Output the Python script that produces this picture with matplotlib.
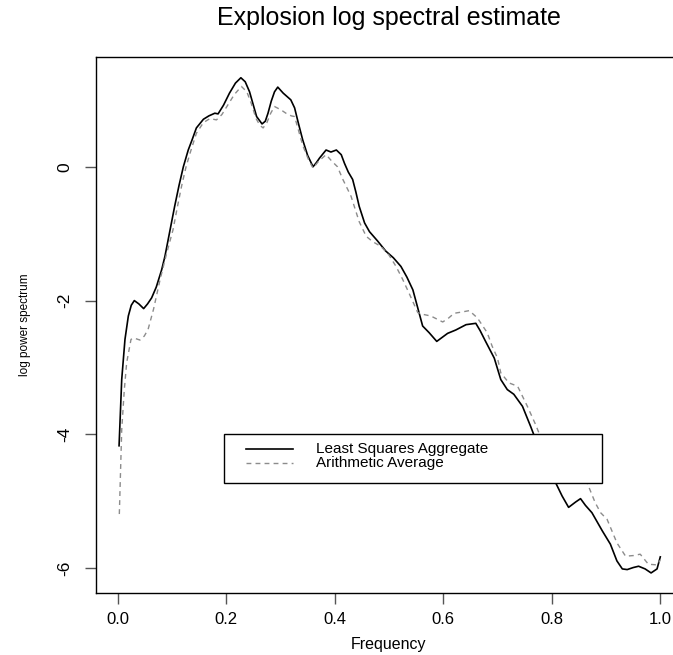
import numpy as np
import matplotlib
matplotlib.use("Agg")
import matplotlib.pyplot as plt
from matplotlib.patches import Rectangle

plt.rcParams['font.family'] = ['Liberation Sans', 'DejaVu Sans']

# least squares aggregate spectrum (solid)
lsa_freq = [0.0025, 0.0074, 0.0134, 0.0196, 0.025, 0.0306, 0.039, 0.0478, 0.055, 0.0625,
            0.071, 0.081, 0.087, 0.093, 0.099, 0.105, 0.113, 0.121, 0.130, 0.137,
            0.145, 0.158, 0.168, 0.179, 0.185, 0.195, 0.206, 0.217, 0.227, 0.235,
            0.243, 0.250, 0.256, 0.266, 0.272, 0.277, 0.283, 0.289, 0.295, 0.305,
            0.312, 0.319, 0.326, 0.333, 0.341, 0.350, 0.360, 0.366, 0.372, 0.384,
            0.393, 0.403, 0.412, 0.418, 0.425, 0.433, 0.439, 0.445, 0.455, 0.464,
            0.479, 0.494, 0.508, 0.522, 0.533, 0.544, 0.552, 0.562, 0.574, 0.588,
            0.598, 0.608, 0.623, 0.642, 0.660, 0.668, 0.678, 0.694, 0.706, 0.718,
            0.730, 0.746, 0.761, 0.770, 0.785, 0.797, 0.807, 0.819, 0.831, 0.844,
            0.853, 0.862, 0.874, 0.893, 0.908, 0.920, 0.930, 0.939, 0.950, 0.960,
            0.972, 0.983, 0.994, 1.000]
lsa_logpow = [-4.17, -3.18, -2.58, -2.23, -2.07, -2.00, -2.05, -2.12, -2.05, -1.96,
              -1.80, -1.54, -1.34, -1.09, -0.84, -0.59, -0.28, 0.00, 0.25, 0.40,
              0.58, 0.71, 0.76, 0.80, 0.79, 0.92, 1.10, 1.25, 1.33, 1.27,
              1.12, 0.92, 0.75, 0.64, 0.68, 0.80, 0.98, 1.12, 1.19, 1.10,
              1.05, 1.00, 0.88, 0.65, 0.40, 0.17, 0.00, 0.06, 0.13, 0.25,
              0.22, 0.25, 0.18, 0.05, -0.08, -0.19, -0.38, -0.59, -0.84, -0.97,
              -1.11, -1.26, -1.36, -1.49, -1.65, -1.84, -2.08, -2.38, -2.48, -2.61,
              -2.55, -2.49, -2.44, -2.36, -2.34, -2.45, -2.61, -2.86, -3.18, -3.33,
              -3.40, -3.58, -3.88, -4.07, -4.35, -4.55, -4.72, -4.92, -5.09, -5.01,
              -4.96, -5.06, -5.17, -5.44, -5.64, -5.89, -6.01, -6.02, -5.99, -5.97,
              -6.01, -6.07, -6.01, -5.83]

# arithmetic average spectrum (dashed)
avg_freq = [0.003, 0.0074, 0.012, 0.0165, 0.0245, 0.030, 0.041, 0.049, 0.056, 0.066,
            0.078, 0.090, 0.102, 0.110, 0.118, 0.126, 0.134, 0.145, 0.158, 0.170,
            0.182, 0.192, 0.205, 0.215, 0.228, 0.238, 0.246, 0.255, 0.262, 0.268,
            0.275, 0.282, 0.289, 0.301, 0.310, 0.320, 0.326, 0.333, 0.341, 0.352,
            0.360, 0.370, 0.384, 0.395, 0.405, 0.415, 0.430, 0.445, 0.458, 0.470,
            0.485, 0.500, 0.513, 0.525, 0.537, 0.553, 0.565, 0.577, 0.599, 0.610,
            0.620, 0.635, 0.648, 0.663, 0.681, 0.690, 0.700, 0.706, 0.721, 0.737,
            0.755, 0.770, 0.779, 0.800, 0.815, 0.828, 0.840, 0.855, 0.865, 0.880,
            0.890, 0.902, 0.920, 0.936, 0.951, 0.963, 0.978, 0.994, 1.000]
avg_logpow = [-5.19, -3.93, -3.35, -2.93, -2.58, -2.56, -2.59, -2.53, -2.43, -2.13,
              -1.69, -1.30, -0.94, -0.60, -0.28, 0.00, 0.22, 0.50, 0.66, 0.72,
              0.70, 0.78, 0.95, 1.08, 1.20, 1.12, 0.95, 0.72, 0.62, 0.58,
              0.66, 0.80, 0.90, 0.85, 0.80, 0.76, 0.75, 0.55, 0.32, 0.10,
              -0.02, 0.08, 0.18, 0.08, 0.00, -0.19, -0.44, -0.82, -1.04, -1.12,
              -1.19, -1.32, -1.49, -1.68, -1.89, -2.18, -2.21, -2.23, -2.32, -2.26,
              -2.19, -2.17, -2.15, -2.26, -2.48, -2.68, -2.86, -3.08, -3.23, -3.28,
              -3.58, -3.85, -4.03, -4.40, -4.65, -4.73, -4.73, -4.70, -4.72, -5.02,
              -5.17, -5.27, -5.62, -5.82, -5.81, -5.79, -5.94, -5.95, -5.88]

legend_labels = ["Least Squares Aggregate", "Arithmetic Average"]
xticks = [0.0, 0.2, 0.4, 0.6, 0.8, 1.0]
yticks = [-6, -4, -2, 0]

W, H = 673, 655
fig = plt.figure(figsize=(W / 100, H / 100), dpi=100)
ax = fig.add_axes([96 / W, 62 / H, 586 / W, 536 / H])

ax.plot(lsa_freq, lsa_logpow, color='black', lw=1.2)
ax.plot(avg_freq, avg_logpow, color='#8c8c8c', lw=1.0, dashes=(3.5, 3))

ax.set_xlim(-0.04, 1.04)
ax.set_ylim(-6.37, 1.64)
ax.spines['right'].set_visible(False)
for s in ['left', 'top', 'bottom']:
    ax.spines[s].set_linewidth(1.0)

ax.set_xticks(xticks)
ax.set_xticklabels(["%.1f" % v for v in xticks], fontsize=12)
ax.set_yticks(yticks)
ax.set_yticklabels([str(v) for v in yticks], fontsize=12.5, rotation=90, va='center')
ax.tick_params(length=8, width=1, color='#555555')
ax.tick_params(axis='x', pad=6)
ax.tick_params(axis='y', pad=9)

ax.set_xlabel("Frequency", fontsize=11.5, labelpad=7)
ax.set_ylabel("log power spectrum", fontsize=8.5, labelpad=19)

fig.text(389 / W, 1 - 25 / H, "Explosion log spectral estimate",
         ha='center', va='baseline', fontsize=18)

# legend box drawn in data coordinates like R's legend(x, y)
ax.add_patch(Rectangle((0.195, -4.72), 0.697, 0.72, facecolor='white',
                       edgecolor='black', lw=1.0, zorder=3))
ax.plot([0.237, 0.323], [-4.22, -4.22], color='black', lw=1.2, zorder=4)
ax.plot([0.237, 0.323], [-4.43, -4.43], color='#8c8c8c', lw=1.0, dashes=(3.5, 3), zorder=4)
ax.text(0.366, -4.22, legend_labels[0], fontsize=11, va='center', zorder=4)
ax.text(0.366, -4.43, legend_labels[1], fontsize=11, va='center', zorder=4)

fig.savefig("out.png", dpi=100)
